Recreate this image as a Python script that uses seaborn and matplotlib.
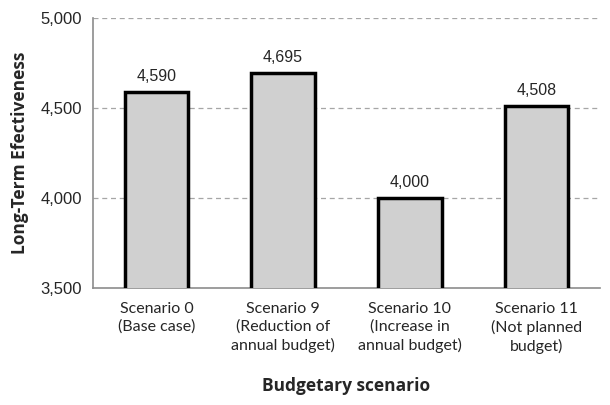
import pandas as pd
import matplotlib
matplotlib.use("Agg")
import matplotlib.pyplot as plt
import seaborn as sns

SCENARIOS = [
    "Scenario 0\n(Base case)",
    "Scenario 9\n(Reduction of\nannual budget)",
    "Scenario 10\n(Increase in\nannual budget)",
    "Scenario 11\n(Not planned\nbudget)",
]
EFFECTIVENESS = [4590, 4695, 4000, 4508]
Y_TICKS = [3500, 4000, 4500, 5000]

ARIAL = ["Liberation Sans", "DejaVu Sans"]
CALIBRI = ["Lato", "DejaVu Sans"]


def main():
    sns.set_style("white")
    plt.rcParams["font.family"] = ARIAL

    df = pd.DataFrame({"scenario": SCENARIOS, "value": EFFECTIVENESS})

    fig = plt.figure(figsize=(6.1, 4.05), dpi=100)
    ax = fig.add_axes([0.1525, 0.289, 0.831, 0.667])

    sns.barplot(data=df, x="scenario", y="value", ax=ax, color="#d0d0d0",
                saturation=1, width=0.5, edgecolor="black", linewidth=2.5,
                zorder=3)

    ax.set_ylim(3500, 5000)
    ax.set_yticks(Y_TICKS)
    ax.set_yticklabels([f"{v:,}" for v in Y_TICKS], fontsize=12, family=ARIAL)
    for v in Y_TICKS[1:]:
        ax.axhline(v, color="#a6a6a6", linestyle=(0, (4, 3)), linewidth=0.9, zorder=1)

    for i, v in enumerate(EFFECTIVENESS):
        ax.text(i, v + 45, f"{v:,}", ha="center", va="bottom", fontsize=11.5,
                family=ARIAL)

    ax.set_xticks(range(len(SCENARIOS)))
    ax.set_xticklabels(SCENARIOS, fontsize=11.5, family=CALIBRI, linespacing=1.35)
    ax.tick_params(axis="x", length=0, pad=10)
    ax.tick_params(axis="y", length=0, pad=8)

    ax.set_xlabel("Budgetary scenario", fontsize=12.5, fontweight="bold",
                  family=["Open Sans", "DejaVu Sans"], labelpad=16)
    ax.set_ylabel("Long-Term Efectiveness", fontsize=12.5, fontweight="bold",
                  family=["Open Sans", "DejaVu Sans"], labelpad=8)

    for side in ["top", "right"]:
        ax.spines[side].set_visible(False)
    for side in ["left", "bottom"]:
        ax.spines[side].set_color("#8c8c8c")
        ax.spines[side].set_linewidth(1.2)

    fig.savefig("out.png", dpi=100)


if __name__ == "__main__":
    main()
